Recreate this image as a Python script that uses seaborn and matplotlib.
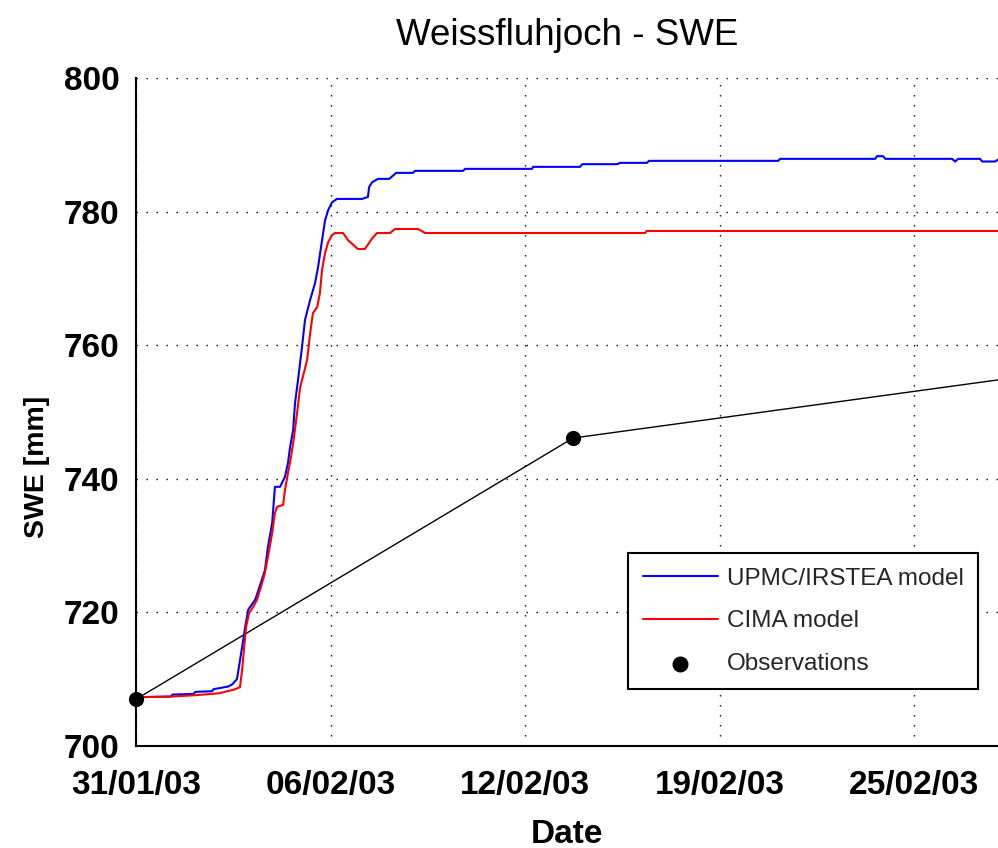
import numpy as np
import pandas as pd
import matplotlib
matplotlib.use("Agg")
import matplotlib.pyplot as plt
import seaborn as sns

# Days since 31/01/03 00:00 and simulated snow water equivalent (mm)
upmc_days = [0.0, 1.15, 1.2, 1.9, 1.95, 2.5, 2.55, 3.03, 3.16, 3.32, 3.36, 3.49, 3.59,
             3.69, 3.92, 4.01, 4.24, 4.34, 4.48, 4.57, 4.74, 4.90, 5.00, 5.07, 5.17,
             5.23, 5.33, 5.46, 5.56, 5.73, 5.89, 5.99, 6.12, 6.22, 6.32, 6.45, 6.61,
             7.44, 7.63, 7.67, 7.77, 7.96, 8.33, 8.56, 9.11, 9.18, 10.76, 10.83,
             13.03, 13.06, 14.61, 14.68, 15.83, 15.93, 16.81, 16.88, 21.13, 21.19,
             24.32, 24.38, 24.58, 24.65, 26.85, 26.95, 27.05, 27.77, 27.84, 28.27, 28.36]
upmc_swe = [707.3, 707.4, 707.7, 707.8, 708.1, 708.2, 708.5, 708.9, 709.2, 710.0, 711.1,
            714.8, 717.8, 720.4, 721.9, 723.1, 726.3, 729.8, 733.4, 738.8, 738.8, 740.3,
            742.4, 744.8, 747.3, 751.3, 754.8, 759.7, 763.8, 766.8, 769.3, 771.7, 775.7,
            778.7, 780.2, 781.4, 781.9, 781.9, 782.2, 783.7, 784.4, 784.9, 784.9, 785.8,
            785.8, 786.1, 786.1, 786.4, 786.4, 786.7, 786.7, 787.1, 787.1, 787.3, 787.3,
            787.6, 787.6, 787.9, 787.9, 788.3, 788.3, 787.9, 787.9, 787.5, 787.9, 787.9,
            787.5, 787.5, 787.8]

cima_days = [0.0, 1.15, 1.95, 2.75, 3.0, 3.2, 3.42, 3.49, 3.55, 3.62, 3.72, 3.85, 3.98,
             4.11, 4.24, 4.38, 4.48, 4.57, 4.64, 4.84, 4.90, 5.00, 5.10, 5.20, 5.30,
             5.40, 5.63, 5.73, 5.82, 5.96, 6.05, 6.12, 6.22, 6.32, 6.45, 6.55, 6.81,
             6.98, 7.30, 7.53, 7.77, 7.93, 8.36, 8.52, 9.28, 9.51, 16.75, 16.80, 28.36]
cima_swe = [707.3, 707.4, 707.6, 707.9, 708.2, 708.4, 708.8, 711.4, 714.4, 717.8, 719.9,
            720.8, 721.9, 723.8, 725.9, 729.3, 731.9, 734.9, 735.8, 736.1, 738.3, 740.9,
            743.3, 746.3, 749.9, 753.7, 757.8, 761.8, 764.8, 765.7, 767.8, 771.3, 773.8,
            775.4, 776.5, 776.8, 776.8, 775.7, 774.4, 774.4, 776.0, 776.8, 776.8, 777.4,
            777.4, 776.8, 776.8, 777.1, 777.1]

obs_days = [0.0, 14.38, 42.0]
obs_swe = [707.0, 746.1, 763.3]

tick_days = [0.0, 6.4, 12.8, 19.2, 25.6]
tick_labels = ["31/01/03", "06/02/03", "12/02/03", "19/02/03", "25/02/03"]
x_end = 28.36

sns.set_theme(style="white")
plt.rcParams["font.family"] = ["Liberation Sans", "DejaVu Sans"]

fig = plt.figure(figsize=(9.98, 8.48), dpi=100)
ax = fig.add_axes([0.1363, 0.1203, 1.0 - 0.1363, 0.908 - 0.1203])

upmc = pd.DataFrame({"day": upmc_days, "swe": upmc_swe})
cima = pd.DataFrame({"day": cima_days, "swe": cima_swe})
obs = pd.DataFrame({"day": obs_days, "swe": obs_swe})

sns.lineplot(data=obs, x="day", y="swe", color="black", lw=1.0, sort=False,
             estimator=None, ax=ax, zorder=3)
sns.lineplot(data=upmc, x="day", y="swe", color=(0, 0, 1), lw=1.5, sort=False,
             estimator=None, ax=ax, label="UPMC/IRSTEA model", zorder=4)
sns.lineplot(data=cima, x="day", y="swe", color=(1, 0, 0), lw=1.5, sort=False,
             estimator=None, ax=ax, label="CIMA model", zorder=4)
shown = obs[obs["day"] <= x_end]
sns.scatterplot(data=shown, x="day", y="swe", color="black", s=120, edgecolor="black",
                linewidth=0, ax=ax, label="Observations", zorder=6, clip_on=False)

ax.set_xlim(0, x_end)
ax.set_ylim(700, 800)
ax.set_xticks(tick_days)
ax.set_xticklabels(tick_labels)
ax.set_yticks(np.arange(700, 801, 20))

ax.grid(True, color="black", linestyle=(0, (1, 6.2)), linewidth=1.0)
for side in ("top", "right"):
    ax.spines[side].set_visible(False)
for side in ("left", "bottom"):
    ax.spines[side].set_color("black")
    ax.spines[side].set_linewidth(1.5)

ax.tick_params(axis="both", direction="in", length=7, width=1.5, color="black",
               labelsize=24, labelcolor="black")
ax.tick_params(axis="x", pad=17)
ax.tick_params(axis="y", pad=12)
for lbl in ax.get_xticklabels() + ax.get_yticklabels():
    lbl.set_fontweight("bold")

ax.set_title("Weissfluhjoch - SWE", fontsize=26.5, color="black", pad=24)
ax.set_xlabel("Date", fontsize=24, color="black", fontweight="bold", labelpad=13)
ax.set_ylabel("SWE [mm]", fontsize=20.5, color="black", fontweight="bold")
ax.yaxis.set_label_coords(-0.0998, 0.418)

leg = ax.legend(loc="upper left", bbox_to_anchor=(0.571, 0.289), borderaxespad=0,
                fontsize=17.5, frameon=True, fancybox=False, handlelength=3.1,
                handletextpad=0.35, labelspacing=0.85, borderpad=0.6,
                markerscale=1.05)
leg.get_frame().set_edgecolor("black")
leg.get_frame().set_linewidth(1.5)
leg.get_frame().set_facecolor("white")
leg.get_frame().set_alpha(1)

fig.savefig("out.png", dpi=100)
